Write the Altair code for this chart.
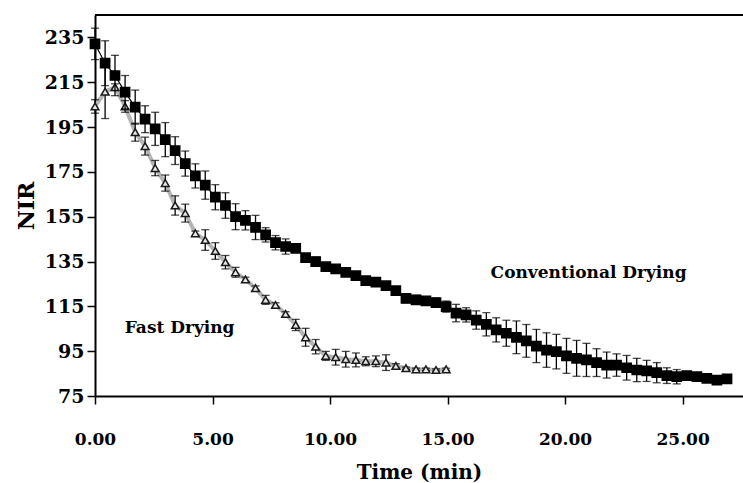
import altair as alt
import pandas as pd

# Time (min) for each reading
conv_time = [0.00, 0.43, 0.85, 1.28, 1.71, 2.13, 2.56, 2.99, 3.41, 3.84,
             4.27, 4.69, 5.12, 5.55, 5.98, 6.40, 6.83, 7.26, 7.68, 8.11,
             8.54, 8.96, 9.39, 9.82, 10.24, 10.67, 11.10, 11.52, 11.95, 12.38,
             12.80, 13.23, 13.66, 14.08, 14.51, 14.94, 15.36, 15.79, 16.22, 16.65,
             17.07, 17.50, 17.93, 18.35, 18.78, 19.21, 19.63, 20.06, 20.49, 20.91,
             21.34, 21.77, 22.19, 22.62, 23.05, 23.47, 23.90, 24.33, 24.75, 25.18,
             25.61, 26.03, 26.46, 26.89]
conv_nir = [232.1, 223.5, 218.0, 210.6, 203.9, 198.5, 194.2, 189.4, 184.5, 178.7,
            173.2, 169.1, 163.7, 160.0, 155.0, 153.4, 150.2, 146.9, 143.4, 141.7,
            140.9, 136.7, 135.0, 132.7, 131.7, 130.2, 128.7, 126.5, 125.8, 124.2,
            122.0, 118.6, 117.9, 117.4, 116.7, 114.9, 112.0, 111.2, 108.9, 107.0,
            104.5, 103.0, 101.2, 99.6, 97.3, 95.5, 94.8, 92.9, 91.8, 91.1,
            89.9, 88.8, 88.8, 87.6, 86.6, 86.2, 85.4, 84.1, 83.6, 84.1,
            83.6, 82.9, 82.1, 82.6]
conv_err = [7.0, 10.0, 9.0, 7.4, 7.6, 6.0, 7.4, 7.6, 6.2, 5.6,
            5.4, 6.3, 5.6, 5.7, 5.8, 4.3, 5.4, 3.2, 3.2, 3.4,
            1.0, 1.0, 2.0, 1.0, 1.0, 1.0, 1.0, 1.0, 1.0, 1.0,
            1.0, 2.0, 2.0, 1.0, 2.0, 2.5, 3.9, 3.2, 4.1, 5.2,
            5.4, 5.8, 7.3, 7.3, 7.4, 7.7, 7.7, 7.8, 8.0, 7.4,
            6.2, 5.8, 5.0, 5.5, 5.2, 4.7, 4.5, 3.5, 3.2, 1.8,
            1.6, 1.8, 1.4, 1.0]

fast_time = conv_time[:36]
fast_nir = [204.2, 210.8, 212.8, 204.2, 192.7, 186.5, 176.7, 170.0, 160.0, 156.6,
            147.6, 144.6, 139.7, 134.7, 130.2, 127.0, 123.1, 117.9, 115.6, 111.6,
            106.7, 101.2, 97.0, 92.9, 92.3, 91.4, 91.1, 90.5, 90.5, 89.9,
            88.4, 87.4, 86.9, 86.9, 86.6, 86.9]
fast_err = [3.0, 12.0, 1.5, 2.6, 4.0, 4.0, 3.4, 3.6, 4.3, 4.0,
            1.0, 4.6, 3.7, 3.0, 2.2, 1.0, 1.0, 2.0, 1.0, 1.0,
            2.5, 4.0, 3.2, 2.0, 3.5, 3.5, 3.1, 2.0, 2.4, 3.5,
            1.0, 0.5, 0.5, 0.5, 0.5, 0.5]

labels = ["Fast Drying", "Conventional Drying"]
label_x = [3.6, 21.0]
label_y = [103.3, 127.8]

X_MAX = 27.57
Y_MIN, Y_MAX = 75, 245
FONT = "DejaVu Serif"

conv = pd.DataFrame({"t": conv_time, "v": conv_nir, "e": conv_err})
fast = pd.DataFrame({"t": fast_time, "v": fast_nir, "e": fast_err})
for d in (conv, fast):
    d["lo"] = d["v"] - d["e"]
    d["hi"] = d["v"] + d["e"]
ann = pd.DataFrame({"label": labels, "x": label_x, "y": label_y})

xs = alt.Scale(domain=[0, X_MAX], nice=False, zero=False)
ys = alt.Scale(domain=[Y_MIN, Y_MAX], nice=False, zero=False)

X = alt.X("t:Q", scale=xs, axis=alt.Axis(
    title="Time (min)", values=[0, 5, 10, 15, 20, 25], format=".2f",
    grid=False, tickSize=8, tickWidth=1.5, tickColor="black",
    domainColor="black", domainWidth=2, labelFlush=False,
    labelFont=FONT, labelFontSize=17, labelFontWeight="bold", labelColor="black",
    labelPadding=27, titleFont=FONT, titleFontSize=20, titleFontWeight="bold",
    titleColor="black", titlePadding=15))
Y = alt.Y("v:Q", scale=ys, axis=alt.Axis(
    title="NIR", values=[75, 95, 115, 135, 155, 175, 195, 215, 235],
    grid=False, tickSize=8, tickWidth=1.5, tickColor="black",
    domainColor="black", domainWidth=2, labelFlush=False,
    labelFont=FONT, labelFontSize=19, labelFontWeight="bold", labelColor="black",
    labelPadding=3, titleFont=FONT, titleFontSize=22, titleFontWeight="bold",
    titleColor="black", titlePadding=6))


def series(df, line_color, line_width, shape, size, fill, stroke):
    base = alt.Chart(df)
    line = base.mark_line(color=line_color, strokeWidth=line_width).encode(x=X, y=Y)
    bars = base.mark_rule(color="black", strokeWidth=1.3).encode(
        x=alt.X("t:Q", scale=xs), y=alt.Y("lo:Q", scale=ys), y2="hi:Q")
    cap_hi = base.mark_tick(orient="horizontal", color="black", size=8, thickness=1.3).encode(
        x=alt.X("t:Q", scale=xs), y=alt.Y("hi:Q", scale=ys))
    cap_lo = base.mark_tick(orient="horizontal", color="black", size=8, thickness=1.3).encode(
        x=alt.X("t:Q", scale=xs), y=alt.Y("lo:Q", scale=ys))
    pts = base.mark_point(shape=shape, size=size, filled=False, fill=fill, fillOpacity=1,
                          stroke=stroke, strokeWidth=1.5, opacity=1).encode(x=X, y=Y)
    return [line, bars, cap_hi, cap_lo, pts]


fast_layers = series(fast, "#b4b4b4", 4, "triangle-up", 60, "#e6e6e6", "#1a1a1a")
conv_layers = series(conv, "black", 1.2, "square", 85, "black", "black")

top_border = alt.Chart(ann).mark_rule(color="black", strokeWidth=2).encode(
    x=alt.datum(0, scale=xs), x2=alt.datum(X_MAX), y=alt.datum(Y_MAX, scale=ys))

text = alt.Chart(ann).mark_text(font=FONT, fontSize=17, fontWeight="bold",
                                color="black", align="center", baseline="alphabetic").encode(
    x=alt.X("x:Q", scale=xs), y=alt.Y("y:Q", scale=ys), text="label:N")

chart = alt.layer(*fast_layers, *conv_layers, top_border, text).properties(
    width=648, height=381,
    autosize=alt.AutoSizeParams(type="none"),
    padding={"left": 95, "top": 15, "right": 0, "bottom": 87},
    background="white",
).configure_view(stroke=None)

chart.save("out.html", embed_options={"renderer": "svg", "actions": False})
